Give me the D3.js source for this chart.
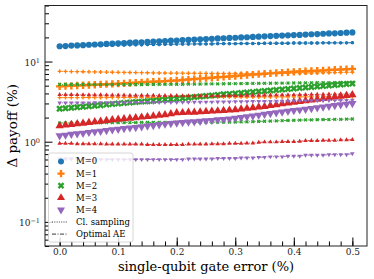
<!DOCTYPE html>
<html>
<head>
<meta charset="utf-8">
<script src="https://cdn.jsdelivr.net/npm/d3@7"></script>
<style>
  body { margin: 0; background: #fff; }
  text { font-family: "DejaVu Serif", serif; }
</style>
</head>
<body>
<svg id="chart" width="374" height="279"></svg>
<script>
// single-qubit gate error (%)
const errors = [0,0.01,0.02,0.03,0.04,0.05,0.06,0.07,0.08,0.09,0.1,0.11,0.12,0.13,0.14,0.15,0.16,0.17,0.18,0.19,0.2,0.21,0.22,0.23,0.24,0.25,0.26,0.27,0.28,0.29,0.3,0.31,0.32,0.33,0.34,0.35,0.36,0.37,0.38,0.39,0.4,0.41,0.42,0.43,0.44,0.45,0.46,0.47,0.48,0.49,0.5];

// noisy estimates (big markers)
const m0Noisy = [15.5,15.6,15.8,15.9,16.0,16.2,16.3,16.4,16.6,16.7,16.9,17.0,17.2,17.3,17.4,17.6,17.7,17.9,18.0,18.2,18.3,18.5,18.6,18.8,18.9,19.1,19.2,19.4,19.5,19.7,19.8,20.0,20.1,20.3,20.4,20.6,20.8,20.9,21.1,21.2,21.4,21.5,21.7,21.9,22.0,22.2,22.4,22.5,22.7,22.9,23.1];
const m1Noisy = [4.90,4.94,4.98,5.02,5.06,5.10,5.14,5.18,5.22,5.26,5.30,5.35,5.40,5.45,5.50,5.55,5.60,5.65,5.70,5.75,5.80,5.88,5.96,6.04,6.12,6.20,6.28,6.36,6.44,6.52,6.60,6.70,6.80,6.88,6.96,7.04,7.12,7.20,7.28,7.36,7.44,7.50,7.56,7.62,7.68,7.75,7.82,7.89,7.96,8.03,8.10];
const m2Noisy = [2.57,2.61,2.65,2.69,2.73,2.77,2.81,2.85,2.90,2.95,3.00,3.04,3.08,3.12,3.16,3.20,3.25,3.30,3.35,3.39,3.43,3.48,3.54,3.60,3.66,3.72,3.78,3.84,3.90,3.95,4.00,4.06,4.12,4.18,4.24,4.30,4.36,4.42,4.48,4.54,4.60,4.67,4.74,4.81,4.88,4.95,5.02,5.09,5.16,5.23,5.30];
const m3Noisy = [1.58,1.61,1.64,1.67,1.70,1.73,1.77,1.80,1.83,1.87,1.90,1.93,1.96,1.99,2.02,2.05,2.09,2.13,2.17,2.23,2.29,2.30,2.32,2.33,2.35,2.38,2.40,2.42,2.45,2.47,2.50,2.55,2.60,2.65,2.70,2.75,2.82,2.89,2.96,3.03,3.10,3.17,3.24,3.31,3.38,3.45,3.53,3.61,3.69,3.77,3.85];
const m4Noisy = [1.19,1.21,1.24,1.26,1.28,1.31,1.33,1.35,1.38,1.41,1.43,1.46,1.49,1.51,1.54,1.57,1.60,1.63,1.66,1.69,1.72,1.74,1.76,1.78,1.80,1.83,1.85,1.88,1.90,1.93,1.97,2.01,2.05,2.10,2.15,2.20,2.25,2.30,2.35,2.40,2.45,2.50,2.55,2.60,2.66,2.72,2.78,2.84,2.90,2.95,3.00];

// classical sampling (dotted, small markers)
const m0Classical = [15.5,15.6,15.6,15.7,15.8,15.8,15.9,15.9,16.0,16.0,16.1,16.1,16.2,16.2,16.2,16.3,16.3,16.3,16.4,16.4,16.5,16.5,16.5,16.6,16.6,16.6,16.6,16.7,16.7,16.7,16.7,16.8,16.8,16.8,16.8,16.9,16.9,16.9,16.9,16.9,17.0,17.0,17.0,17.0,17.0,17.1,17.1,17.1,17.1,17.1,17.2];
const m1Classical = [7.55,7.53,7.50,7.48,7.46,7.44,7.42,7.40,7.38,7.36,7.34,7.32,7.30,7.28,7.26,7.24,7.22,7.20,7.19,7.18,7.17,7.16,7.15,7.14,7.13,7.12,7.12,7.11,7.11,7.10,7.10,7.10,7.10,7.11,7.11,7.12,7.12,7.13,7.14,7.15,7.16,7.17,7.18,7.20,7.22,7.24,7.26,7.28,7.30,7.32,7.35];
const m2Classical = [5.18,5.18,5.17,5.17,5.17,5.16,5.16,5.16,5.16,5.16,5.16,5.16,5.17,5.17,5.17,5.18,5.18,5.19,5.19,5.20,5.20,5.21,5.22,5.23,5.24,5.25,5.26,5.27,5.28,5.29,5.30,5.31,5.32,5.33,5.34,5.35,5.36,5.37,5.38,5.39,5.40,5.41,5.42,5.43,5.44,5.45,5.46,5.47,5.48,5.49,5.50];
const m3Classical = [3.87,3.86,3.86,3.85,3.85,3.84,3.83,3.83,3.82,3.81,3.81,3.80,3.79,3.79,3.78,3.77,3.77,3.76,3.76,3.75,3.75,3.74,3.74,3.73,3.73,3.72,3.73,3.73,3.74,3.75,3.75,3.76,3.77,3.78,3.79,3.80,3.81,3.82,3.83,3.84,3.85,3.86,3.87,3.88,3.89,3.90,3.91,3.92,3.93,3.94,3.95];
const m4Classical = [3.05,3.05,3.05,3.06,3.06,3.06,3.07,3.07,3.07,3.07,3.08,3.08,3.08,3.08,3.09,3.09,3.09,3.09,3.10,3.10,3.10,3.11,3.11,3.12,3.12,3.13,3.13,3.14,3.15,3.15,3.16,3.17,3.17,3.18,3.19,3.19,3.20,3.21,3.21,3.22,3.23,3.23,3.24,3.25,3.25,3.26,3.27,3.27,3.28,3.29,3.30];

// optimal AE (dash-dot, small markers)
const m1Optimal = [3.55,3.55,3.55,3.55,3.56,3.56,3.56,3.56,3.56,3.57,3.57,3.57,3.57,3.57,3.58,3.58,3.58,3.58,3.58,3.59,3.59,3.59,3.59,3.59,3.60,3.60,3.60,3.60,3.60,3.61,3.61,3.61,3.61,3.61,3.62,3.62,3.62,3.62,3.62,3.63,3.63,3.63,3.63,3.63,3.64,3.64,3.64,3.64,3.64,3.65,3.65];
const m2Optimal = [1.71,1.71,1.71,1.72,1.72,1.72,1.72,1.72,1.73,1.73,1.73,1.73,1.73,1.73,1.74,1.74,1.74,1.74,1.74,1.74,1.75,1.75,1.75,1.75,1.75,1.75,1.75,1.76,1.76,1.76,1.76,1.77,1.77,1.78,1.79,1.80,1.81,1.82,1.83,1.84,1.85,1.86,1.87,1.87,1.88,1.89,1.89,1.90,1.90,1.91,1.92];
const m3Optimal = [0.95,0.95,0.95,0.94,0.94,0.94,0.94,0.94,0.93,0.93,0.93,0.93,0.93,0.93,0.93,0.92,0.92,0.92,0.92,0.92,0.92,0.92,0.93,0.93,0.93,0.93,0.94,0.94,0.94,0.95,0.95,0.95,0.96,0.96,0.98,0.99,0.99,0.99,1.00,1.00,1.00,1.01,1.03,1.03,1.03,1.04,1.04,1.04,1.05,1.05,1.06];
const m4Optimal = [0.61,0.61,0.61,0.61,0.61,0.60,0.60,0.60,0.60,0.60,0.60,0.60,0.60,0.60,0.60,0.60,0.60,0.60,0.60,0.60,0.60,0.60,0.61,0.61,0.61,0.61,0.61,0.62,0.62,0.62,0.62,0.63,0.63,0.63,0.64,0.64,0.65,0.65,0.65,0.66,0.66,0.66,0.68,0.68,0.68,0.68,0.69,0.69,0.69,0.69,0.71];

const mLabels = ["M=0", "M=1", "M=2", "M=3", "M=4"];
const xTicks = [0, 0.1, 0.2, 0.3, 0.4, 0.5];
const yTicks = [0.1, 1, 10];

const colors = ["#1f77b4", "#ff7f0e", "#2ca02c", "#d62728", "#9467bd"];
const shapes = ["o", "P", "X", "^", "v"];

const series = [
  {noisy: m0Noisy, classical: m0Classical, optimal: m0Classical},
  {noisy: m1Noisy, classical: m1Classical, optimal: m1Optimal},
  {noisy: m2Noisy, classical: m2Classical, optimal: m2Optimal},
  {noisy: m3Noisy, classical: m3Classical, optimal: m3Optimal},
  {noisy: m4Noisy, classical: m4Classical, optimal: m4Optimal}
];

const svg = d3.select("#chart");
const padL = 45, padR = 367, padT = 5.5, padB = 246;

let x = d3.scaleLinear().domain([-0.025, 0.525]).range([padL, padR]);
let y = d3.scaleLog().domain([0.05, 50]).range([padB, padT]);

function markerPath(shape, size) {
  let type = d3.symbolCircle;
  if (shape == "P" || shape == "X") type = d3.symbolCross;
  if (shape == "^" || shape == "v") type = d3.symbolTriangle;
  return d3.symbol().type(type).size(size)();
}
function markerRot(shape) {
  if (shape == "X") return " rotate(45)";
  if (shape == "v") return " rotate(180)";
  return "";
}

const plot = svg.append("g");

// lines and markers per M
series.forEach((s, i) => {
  let c = colors[i], sh = shapes[i];
  let line = d3.line().x((d, j) => x(errors[j])).y(d => y(d));

  plot.append("path")
    .attr("d", line(s.optimal))
    .attr("fill", "none")
    .attr("stroke", c)
    .attr("stroke-width", 0.9)
    .attr("stroke-dasharray", "4,1.5,1,1.5");
  plot.selectAll(null)
    .data(s.optimal)
    .enter()
    .append("path")
    .attr("d", markerPath(sh, 9))
    .attr("transform", (d, j) => "translate(" + x(errors[j]) + "," + y(d) + ")" + markerRot(sh))
    .attr("fill", c);

  plot.append("path")
    .attr("d", line(s.classical))
    .attr("fill", "none")
    .attr("stroke", c)
    .attr("stroke-width", 0.9)
    .attr("stroke-dasharray", "1,1.3");
  plot.selectAll(null)
    .data(s.classical)
    .enter()
    .append("path")
    .attr("d", markerPath(sh, 9))
    .attr("transform", (d, j) => "translate(" + x(errors[j]) + "," + y(d) + ")" + markerRot(sh))
    .attr("fill", c);

  plot.selectAll(null)
    .data(s.noisy)
    .enter()
    .append("path")
    .attr("d", markerPath(sh, 30))
    .attr("transform", (d, j) => "translate(" + x(errors[j]) + "," + y(d) + ")" + markerRot(sh))
    .attr("fill", c);
});

// x axis (ticks pointing in)
svg.append("g")
  .attr("transform", "translate(0," + padB + ")")
  .call(d3.axisBottom(x).tickValues(d3.range(0, 0.51, 0.02)).tickSize(-4.5).tickFormat(""))
  .call(g => g.select(".domain").remove());
svg.append("g")
  .attr("transform", "translate(0," + padB + ")")
  .style("font-size", 9)
  .call(d3.axisBottom(x).tickValues(xTicks).tickSize(-8.5).tickPadding(3).tickFormat(d3.format(".1f")))
  .call(g => g.select(".domain").remove())
  .selectAll("text").style("font-family", "DejaVu Serif").attr("fill", "#222");

// y axis
let minor = [];
[0.01, 0.1, 1, 10].forEach(dec => {
  for (let k = 2; k <= 9; k++) {
    let v = dec * k;
    if (v >= 0.05 && v <= 50) minor.push(v);
  }
});
svg.append("g")
  .attr("transform", "translate(" + padL + ",0)")
  .call(d3.axisLeft(y).tickValues(minor).tickSize(-4).tickFormat(""))
  .call(g => g.select(".domain").remove());
let yAxis = svg.append("g")
  .attr("transform", "translate(" + padL + ",0)")
  .style("font-size", 9)
  .call(d3.axisLeft(y).tickValues(yTicks).tickSize(-7.5).tickPadding(5).tickFormat(""))
  .call(g => g.select(".domain").remove());
yAxis.selectAll(".tick").each(function(d) {
  let t = d3.select(this).select("text")
    .style("font-family", "DejaVu Serif")
    .attr("fill", "#222")
    .attr("dy", "0.45em");
  t.append("tspan").text("10");
  t.append("tspan").attr("dy", "-0.45em").style("font-size", "6.5px").text(Math.round(Math.log10(d)) == -1 ? "\u22121" : Math.round(Math.log10(d)));
});

// frame
svg.append("rect")
  .attr("x", padL).attr("y", padT)
  .attr("width", padR - padL).attr("height", padB - padT)
  .attr("fill", "none").attr("stroke", "#222").attr("stroke-width", 1);

// axis labels
svg.append("text")
  .attr("x", (padL + padR) / 2)
  .attr("y", 271)
  .attr("text-anchor", "middle")
  .style("font-size", 13)
  .text("single-qubit gate error (%)");
svg.append("text")
  .attr("transform", "translate(17," + ((padT + padB) / 2) + ") rotate(-90)")
  .attr("text-anchor", "middle")
  .style("font-size", 13.5)
  .text("\u0394 payoff (%)");

// legend
let lg = svg.append("g");
lg.append("rect")
  .attr("x", 48.5).attr("y", 153)
  .attr("width", 84.5).attr("height", 89)
  .attr("rx", 2)
  .attr("fill", "#fff").attr("fill-opacity", 0.8)
  .attr("stroke", "#ccc").attr("stroke-width", 0.8);
mLabels.forEach((lab, i) => {
  let ly = 161.5 + i * 12.1;
  lg.append("path")
    .attr("d", markerPath(shapes[i], 28))
    .attr("transform", "translate(61," + ly + ")" + markerRot(shapes[i]))
    .attr("fill", colors[i]);
  lg.append("text")
    .attr("x", 76).attr("y", ly)
    .attr("dy", "0.35em")
    .style("font-size", 8.5)
    .text(lab);
});
[["Cl. sampling", "1,1.3"], ["Optimal AE", "4,1.5,1,1.5"]].forEach((e, i) => {
  let ly = 222 + i * 12.1;
  lg.append("line")
    .attr("x1", 52).attr("x2", 68)
    .attr("y1", ly).attr("y2", ly)
    .attr("stroke", "#222").attr("stroke-width", 0.9)
    .attr("stroke-dasharray", e[1]);
  lg.append("text")
    .attr("x", 76).attr("y", ly)
    .attr("dy", "0.35em")
    .style("font-size", 8.5)
    .text(e[0]);
});
</script>
</body>
</html>
